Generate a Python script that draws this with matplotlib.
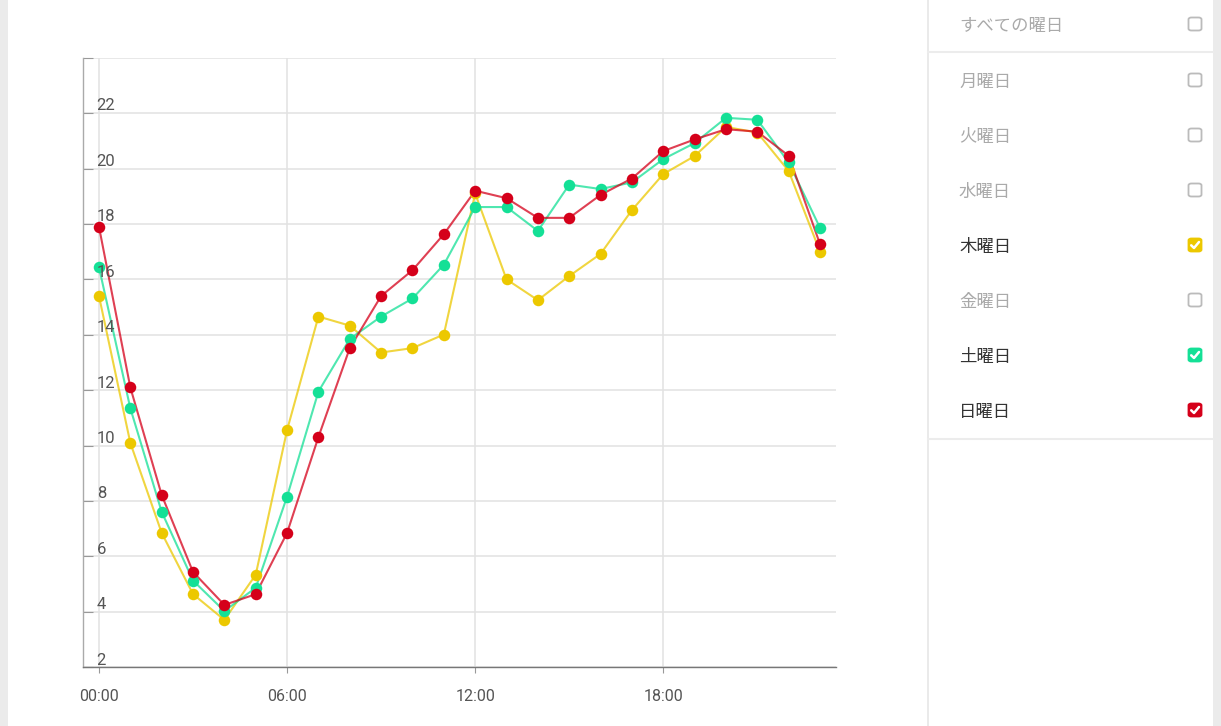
import matplotlib
matplotlib.use("Agg")
import matplotlib.pyplot as plt
from matplotlib.patches import FancyBboxPatch, Rectangle
from matplotlib.lines import Line2D
from matplotlib.transforms import offset_copy

plt.rcParams['font.family'] = ['Roboto', 'Noto Sans CJK JP', 'DejaVu Sans']

# hourly values (00:00 .. 23:00)
hours = list(range(24))
thursday = [15.4, 10.1, 6.85, 4.64, 3.71, 5.34, 10.56, 14.66, 14.33, 13.36, 13.52, 14.01,
            19.1, 16.0, 15.25, 16.12, 16.92, 18.5, 19.8, 20.45, 21.5, 21.3, 19.91, 17.0]
saturday = [16.44, 11.35, 7.61, 5.13, 4.03, 4.87, 8.16, 11.95, 13.85, 14.66, 15.31, 16.53,
            18.61, 18.61, 17.75, 19.42, 19.26, 19.5, 20.34, 20.92, 21.83, 21.76, 20.22, 17.86]
sunday = [17.9, 12.1, 8.22, 5.44, 4.25, 4.64, 6.85, 10.31, 13.52, 15.4, 16.33, 17.63,
          19.2, 18.93, 18.22, 18.22, 19.05, 19.64, 20.63, 21.05, 21.42, 21.33, 20.46, 17.27]

xtick_pos = [0, 6, 12, 18]
xtick_labels = ["00:00", "06:00", "12:00", "18:00"]
ytick_pos = list(range(2, 25, 2))
ylabel_vals = list(range(2, 23, 2))

panel_labels = ["すべての曜日", "月曜日", "火曜日", "水曜日", "木曜日", "金曜日", "土曜日", "日曜日"]
panel_checked = [False, False, False, False, True, False, True, True]

YELLOW = "#ecc800"
GREEN = "#14e096"
RED = "#d5001a"
panel_colors = [None, None, None, None, YELLOW, None, GREEN, RED]

W, H = 1221, 726
fig = plt.figure(figsize=(W / 100, H / 100), dpi=100)


def fx(px):
    return px / W


def fy(py):
    return 1 - py / H


# page background strips and side panel frame
fig.patches.append(Rectangle((0, 0), fx(8), 1, transform=fig.transFigure,
                             facecolor="#ebebeb", edgecolor="none"))
fig.patches.append(Rectangle((fx(1213), 0), fx(8), 1, transform=fig.transFigure,
                             facecolor="#ebebeb", edgecolor="none"))
fig.add_artist(Line2D([fx(927.5), fx(927.5)], [0, 1], transform=fig.transFigure,
                      color="#e6e6e6", lw=1.2))
for py in (52, 438.5):
    fig.add_artist(Line2D([fx(928), fx(1213)], [fy(py), fy(py)], transform=fig.transFigure,
                          color="#ececec", lw=1.5))

ax = fig.add_axes([fx(83.3), fy(667.3), fx(835.7) - fx(83.3), fy(57.7) - fy(667.3)])

for vals, col in ((thursday, YELLOW), (saturday, GREEN), (sunday, RED)):
    ax.plot(hours, vals, color=col, lw=1.5, alpha=0.75, zorder=3)
    ax.plot(hours, vals, linestyle="none", marker="o", ms=8.3, color=col,
            markeredgewidth=0, zorder=4)

ax.set_xlim(-0.5, 23.5)
ax.set_ylim(2, 24)
ax.set_xticks(xtick_pos)
ax.set_xticklabels(xtick_labels)
ax.set_yticks(ytick_pos)
ax.set_yticklabels([])
ax.tick_params(axis="x", direction="out", length=4.5, color="#999999",
               labelsize=11.5, labelcolor="#555555", pad=11)
ax.tick_params(axis="y", direction="in", length=7, color="#999999")
ax.grid(True, color="#e2e2e2", lw=1.1, zorder=0)
for s in ("top", "right"):
    ax.spines[s].set_visible(False)
ax.spines["left"].set_color("#aaaaaa")
ax.spines["bottom"].set_color("#777777")
ax.spines["left"].set_linewidth(1)
ax.spines["bottom"].set_linewidth(1)

lbl_tr = offset_copy(ax.transData, fig=fig, x=-0.5, y=1.9, units="points")
for v in ylabel_vals:
    ax.text(-0.05, v, str(v), transform=lbl_tr, ha="left", va="baseline",
            fontsize=12, color="#555555", zorder=5)

# side panel: weekday selector
row_y = [24, 80, 135, 190, 245, 300, 355, 410]
for label, yy, checked, col in zip(panel_labels, row_y, panel_checked, panel_colors):
    fig.text(fx(959), fy(yy + 2), label, ha="left", va="center", fontsize=12.5,
             family=["Noto Sans CJK JP", "DejaVu Sans"],
             color="#333333" if checked else "#aaaaaa")
    cx, cy, sz = 1195, yy, 13
    box = FancyBboxPatch((fx(cx - sz / 2), fy(cy + sz / 2)), fx(sz), sz / H,
                         boxstyle="round,pad=0,rounding_size=0.0025",
                         transform=fig.transFigure,
                         facecolor=col if checked else "white",
                         edgecolor=col if checked else "#bbbbbb", lw=1.3)
    fig.patches.append(box)
    if checked:
        fig.add_artist(Line2D([fx(cx - 3.8), fx(cx - 1), fx(cx + 4)],
                              [fy(cy + 0.3), fy(cy + 3), fy(cy - 3)],
                              transform=fig.transFigure, color="white", lw=1.8,
                              solid_capstyle="round", solid_joinstyle="round"))

fig.savefig("out.png", dpi=100)
